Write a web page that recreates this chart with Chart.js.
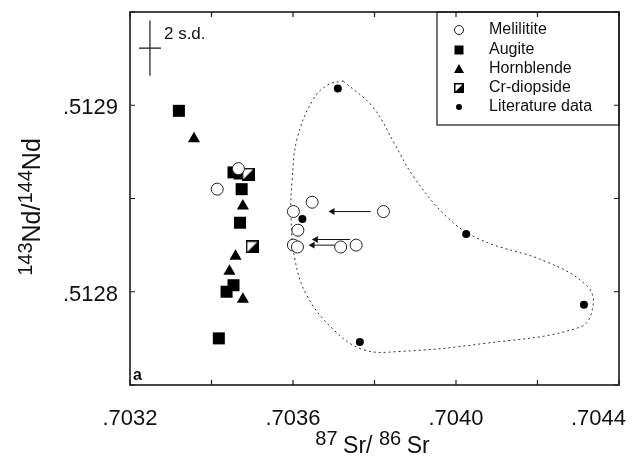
<!DOCTYPE html>
<html>
<head>
<meta charset="utf-8">
<script src="https://cdn.jsdelivr.net/npm/chart.js@4"></script>
<style>
  html, body { margin: 0; padding: 0; background: #fff; }
</style>
</head>
<body>
<canvas id="chart" width="636" height="460"></canvas>
<script>
// 87Sr/86Sr (x) and 143Nd/144Nd (y) for each group
const melilititeSr = [0.703466, 0.703414, 0.703647, 0.703601, 0.703822, 0.703612, 0.703601, 0.703611, 0.703717, 0.703755];
const melilititeNd = [0.512866, 0.512855, 0.512848, 0.512843, 0.512843, 0.512833, 0.512825, 0.512824, 0.512824, 0.512825];

const augiteSr = [0.70332, 0.703454, 0.703474, 0.70347, 0.703454, 0.703437, 0.703418];
const augiteNd = [0.512897, 0.512864, 0.512855, 0.512837, 0.5128035, 0.5128, 0.512775];

const hornblendeSr = [0.703357, 0.703468, 0.703477, 0.703459, 0.703444, 0.703477];
const hornblendeNd = [0.512882, 0.512862, 0.512846, 0.512819, 0.512811, 0.512796];

const crDiopsideSr = [0.70349, 0.7035];
const crDiopsideNd = [0.512863, 0.512824];

const literatureSr = [0.70371, 0.703623, 0.704025, 0.704314, 0.703764];
const literatureNd = [0.512909, 0.512839, 0.512831, 0.512793, 0.512773];

// dotted field around the literature data (closed loop)
const fieldSr = [0.703723, 0.703796, 0.70385, 0.703895, 0.703978, 0.704059, 0.704223, 0.704322, 0.704336, 0.704304,
                 0.704059, 0.703863, 0.703772, 0.703698, 0.703634, 0.703605, 0.703595, 0.703598, 0.70361, 0.703649, 0.703686, 0.703723];
const fieldNd = [0.512913, 0.512899, 0.512879, 0.512862, 0.51284, 0.512828, 0.512816, 0.512803, 0.512792, 0.512781,
                 0.512772, 0.512768, 0.512769, 0.51278, 0.512798, 0.512817, 0.51284, 0.51286, 0.512882, 0.512903, 0.512911, 0.512913];

// arrows: start -> head
const arrowFromSr = [0.703791, 0.70374, 0.703703];
const arrowToSr   = [0.703697, 0.703656, 0.703648];
const arrowNd     = [0.512843, 0.512828, 0.512825];

const xTicks = [0.7032, 0.7034, 0.7036, 0.7038, 0.7040, 0.7042, 0.7044];
const xTickLabels = ['.7032', '', '.7036', '', '.7040', '', '.7044'];
const yTicks = [0.51275, 0.5128, 0.51285, 0.5129, 0.51295];
const yTickLabels = ['', '.5128', '', '.5129', ''];

// 2 s.d. error cross
const sdCenter = { x: 0.703249, y: 0.5129306 };
const sdHalf = { x: 0.000027, y: 0.0000148 };

const FONT = '"Liberation Sans", Arial, Helvetica, sans-serif';

const pts = (xs, ys) => xs.map((v, i) => ({ x: v, y: ys[i] }));

// half filled square for Cr-diopside
function halfSquare(size) {
  const c = document.createElement('canvas');
  c.width = size; c.height = size;
  const g = c.getContext('2d');
  g.fillStyle = '#fff';
  g.fillRect(0, 0, size, size);
  g.fillStyle = '#000';
  g.beginPath();
  g.moveTo(size, 0); g.lineTo(size, size); g.lineTo(0, size); g.closePath();
  g.fill();
  g.strokeStyle = '#000';
  g.lineWidth = 1.5;
  g.strokeRect(0.75, 0.75, size - 1.5, size - 1.5);
  return c;
}
const crIcon = halfSquare(13);
const crIconSmall = halfSquare(10);

const arrowSets = arrowNd.map((nd, i) => ({
  data: [{ x: arrowFromSr[i], y: nd }, { x: arrowToSr[i], y: nd }],
  showLine: true,
  borderColor: '#111',
  borderWidth: 1,
  backgroundColor: '#111',
  pointStyle: 'triangle',
  rotation: -90,
  pointRadius: [0, 4],
  pointBorderWidth: 0,
  order: 9
}));

const frame = {
  id: 'frame',
  afterDraw(chart) {
    const { ctx, chartArea: a, scales: { x, y } } = chart;
    ctx.save();
    ctx.strokeStyle = '#1a1a1a';
    ctx.lineWidth = 1.6;
    ctx.strokeRect(a.left, a.top, a.right - a.left, a.bottom - a.top);

    // inward ticks on all sides
    ctx.lineWidth = 1.2;
    ctx.beginPath();
    xTicks.forEach(v => {
      const px = x.getPixelForValue(v);
      ctx.moveTo(px, a.bottom); ctx.lineTo(px, a.bottom - 5);
      ctx.moveTo(px, a.top); ctx.lineTo(px, a.top + 5);
    });
    yTicks.forEach(v => {
      const py = y.getPixelForValue(v);
      ctx.moveTo(a.left, py); ctx.lineTo(a.left + 5, py);
      ctx.moveTo(a.right, py); ctx.lineTo(a.right - 5, py);
    });
    ctx.stroke();

    // tick labels
    ctx.fillStyle = '#111';
    ctx.font = '22px ' + FONT;
    ctx.textBaseline = 'middle';
    ctx.textAlign = 'center';
    xTicks.forEach((v, i) => {
      const t = xTickLabels[i];
      if (!t) return;
      const w = ctx.measureText(t).width;
      const px = Math.min(x.getPixelForValue(v), chart.width - 10 - w / 2);
      ctx.fillText(t, px, a.bottom + 34);
    });
    ctx.textAlign = 'right';
    yTicks.forEach((v, i) => {
      const t = yTickLabels[i];
      if (!t) return;
      ctx.fillText(t, a.left - 12, y.getPixelForValue(v) + 3);
    });

    // axis titles with superscripts
    const drawParts = (parts, cx, cy) => {
      ctx.textAlign = 'left';
      ctx.textBaseline = 'alphabetic';
      let total = 0;
      parts.forEach(p => { ctx.font = p[1] + 'px ' + FONT; total += ctx.measureText(p[0]).width; });
      let cur = cx - total / 2;
      parts.forEach(p => {
        ctx.font = p[1] + 'px ' + FONT;
        ctx.fillText(p[0], cur, cy - p[2]);
        cur += ctx.measureText(p[0]).width;
      });
    };
    drawParts([['87 ', 20, 8], ['Sr/ ', 23, 0], ['86 ', 20, 8], ['Sr', 23, 0]], (a.left + a.right) / 2 - 2, 453);

    ctx.save();
    ctx.translate(40, 207);
    ctx.rotate(-Math.PI / 2);
    drawParts([['143', 20, 8], ['Nd/', 25, 0], ['144', 20, 8], ['Nd', 25, 0]], 0, 0);
    ctx.restore();

    // panel letter
    ctx.font = 'bold 16px ' + FONT;
    ctx.textAlign = 'left';
    ctx.textBaseline = 'alphabetic';
    ctx.fillText('a', a.left + 3, a.bottom - 5);

    // 2 s.d. cross
    const cx = x.getPixelForValue(sdCenter.x), cy = y.getPixelForValue(sdCenter.y);
    const hx = x.getPixelForValue(sdCenter.x + sdHalf.x) - cx;
    const hy = cy - y.getPixelForValue(sdCenter.y + sdHalf.y);
    ctx.lineWidth = 1.2;
    ctx.beginPath();
    ctx.moveTo(cx - hx, cy); ctx.lineTo(cx + hx, cy);
    ctx.moveTo(cx, cy - hy); ctx.lineTo(cx, cy + hy);
    ctx.stroke();
    ctx.font = '17px ' + FONT;
    ctx.fillText('2 s.d.', cx + 14, cy - 9);

    // legend
    const lx = 437, ly = a.top, lw = a.right - lx, lh = 125 - a.top;
    ctx.lineWidth = 1.2;
    ctx.strokeRect(lx, ly, lw, lh);
    const items = [
      ['Melilitite', 'circle'], ['Augite', 'square'], ['Hornblende', 'triangle'],
      ['Cr-diopside', 'cr'], ['Literature data', 'dot']
    ];
    const rows = [30, 50, 69, 88, 107];
    ctx.font = '16px ' + FONT;
    ctx.textBaseline = 'middle';
    items.forEach((it, i) => {
      const sy = rows[i], sx = 459;
      ctx.fillStyle = '#000';
      ctx.beginPath();
      if (it[1] === 'circle') {
        ctx.arc(sx, sy, 4.5, 0, Math.PI * 2);
        ctx.fillStyle = '#fff'; ctx.fill();
        ctx.lineWidth = 1; ctx.stroke();
      } else if (it[1] === 'square') {
        ctx.fillRect(sx - 4.5, sy - 4.5, 9, 9);
      } else if (it[1] === 'triangle') {
        ctx.moveTo(sx, sy - 5); ctx.lineTo(sx + 5, sy + 4); ctx.lineTo(sx - 5, sy + 4); ctx.closePath(); ctx.fill();
      } else if (it[1] === 'cr') {
        ctx.drawImage(crIconSmall, sx - 5, sy - 5);
      } else {
        ctx.arc(sx, sy, 3, 0, Math.PI * 2); ctx.fill();
      }
      ctx.fillStyle = '#111';
      ctx.fillText(it[0], 489, sy);
    });
    ctx.restore();
  }
};

new Chart(document.getElementById('chart'), {
  type: 'scatter',
  data: {
    datasets: [
      {
        label: 'Literature data',
        data: pts(literatureSr, literatureNd),
        pointStyle: 'circle', pointRadius: 4,
        backgroundColor: '#000', borderWidth: 0,
        order: 1
      },
      {
        label: 'Melilitite',
        data: pts(melilititeSr, melilititeNd),
        pointStyle: 'circle', pointRadius: 6,
        backgroundColor: '#fff', borderColor: '#222', borderWidth: 1,
        order: 2
      },
      {
        label: 'Cr-diopside',
        data: pts(crDiopsideSr, crDiopsideNd),
        pointStyle: crIcon,
        order: 3
      },
      {
        label: 'Hornblende',
        data: pts(hornblendeSr, hornblendeNd),
        pointStyle: 'triangle', pointRadius: 7,
        backgroundColor: '#000', borderWidth: 0,
        order: 4
      },
      {
        label: 'Augite',
        data: pts(augiteSr, augiteNd),
        pointStyle: 'rect', pointRadius: 8.5,
        backgroundColor: '#000', borderWidth: 0,
        order: 5
      },
      ...arrowSets,
      {
        label: 'field',
        data: pts(fieldSr, fieldNd),
        showLine: true,
        tension: 0.4,
        borderColor: '#333',
        borderWidth: 1,
        borderDash: [2, 3],
        pointRadius: 0,
        order: 10
      }
    ]
  },
  options: {
    responsive: false,
    animation: false,
    layout: { padding: { left: 130, right: 17, top: 12, bottom: 75 } },
    plugins: { legend: { display: false }, tooltip: { enabled: false } },
    scales: {
      x: { type: 'linear', min: 0.7032, max: 0.7044, display: false },
      y: { type: 'linear', min: 0.51275, max: 0.51295, display: false }
    }
  },
  plugins: [frame]
});
</script>
</body>
</html>
